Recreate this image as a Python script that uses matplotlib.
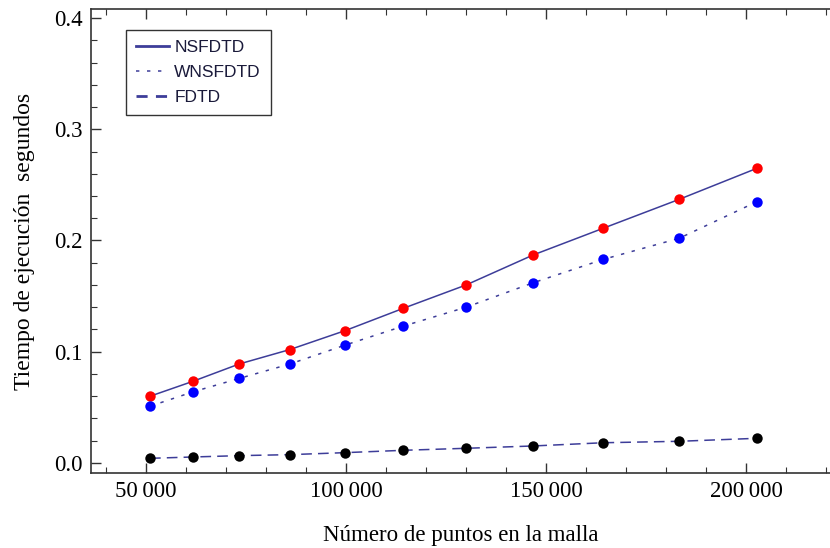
import matplotlib.pyplot as plt
from matplotlib.lines import Line2D
from matplotlib.ticker import MultipleLocator, FuncFormatter

# puntos de la malla
puntos = [51000, 61800, 73300, 86000, 99800, 114300, 130000, 146800, 164300, 183300, 202800]
# tiempos de ejecucion (s)
t_nsfdtd = [0.060, 0.0735, 0.089, 0.102, 0.119, 0.139, 0.160, 0.187, 0.211, 0.237, 0.265]
t_wnsfdtd = [0.051, 0.064, 0.076, 0.089, 0.106, 0.123, 0.140, 0.162, 0.183, 0.202, 0.235]
t_fdtd = [0.0042, 0.0054, 0.0066, 0.0075, 0.0093, 0.0114, 0.0132, 0.0153, 0.0182, 0.0195, 0.0222]
nombres = ["NSFDTD", "WNSFDTD", "FDTD"]

linea = "#3d3d99"
serif = ["Liberation Serif", "DejaVu Serif"]

fig = plt.figure(figsize=(8.3, 5.48), dpi=100)
ax = fig.add_axes([91 / 830, 75 / 548, 1 - 91 / 830, 464 / 548])

ax.plot(puntos, t_nsfdtd, color=linea, lw=1.1, ls="-")
ax.plot(puntos, t_wnsfdtd, color=linea, lw=1.1, ls=(0, (2.2, 5)))
ax.plot(puntos, t_fdtd, color=linea, lw=1.1, ls=(0, (7, 4)))

ax.plot(puntos, t_nsfdtd, "o", color="#ff0000", ms=7.5, mec="none")
ax.plot(puntos, t_wnsfdtd, "o", color="#0000ff", ms=7.5, mec="none")
ax.plot(puntos, t_fdtd, "o", color="black", ms=7.5, mec="none")

ax.set_xlim(36250, 221000)
ax.set_ylim(-0.009, 0.4081)

ax.xaxis.set_major_locator(MultipleLocator(50000))
ax.xaxis.set_minor_locator(MultipleLocator(10000))
ax.yaxis.set_major_locator(MultipleLocator(0.1))
ax.yaxis.set_minor_locator(MultipleLocator(0.02))
ax.xaxis.set_major_formatter(FuncFormatter(lambda v, p: f"{int(v):,}".replace(",", "\u2009")))
ax.yaxis.set_major_formatter(FuncFormatter(lambda v, p: f"{v:.1f}"))

ax.spines["right"].set_visible(False)
for s in ["left", "top", "bottom"]:
    ax.spines[s].set_color("#333333")
    ax.spines[s].set_linewidth(1.2)

ax.tick_params(which="both", direction="in", top=True, right=False, color="#333333")
ax.tick_params(which="major", length=7, width=1)
ax.tick_params(which="minor", length=4, width=0.8)
ax.tick_params(labelsize=16.5, pad=6)
for lab in ax.get_xticklabels() + ax.get_yticklabels():
    lab.set_family(serif)

ax.set_xlabel("Número de puntos en la malla", family=serif, fontsize=16.5, labelpad=16)
ax.set_ylabel("Tiempo de ejecución  segundos", family=serif, fontsize=17, labelpad=14)

handles = [
    Line2D([], [], color=linea, lw=2, ls="-"),
    Line2D([], [], color=linea, lw=1.1, ls=(0, (2.2, 5))),
    Line2D([], [], color=linea, lw=2, ls=(0, (4, 3))),
]
leg = ax.legend(handles, nombres, loc="upper left", bbox_to_anchor=(0.047, 0.955),
                borderaxespad=0, fancybox=False, frameon=True, edgecolor="black",
                prop={"family": "Liberation Sans", "size": 12.5}, handlelength=1.9,
                handletextpad=0.3, labelspacing=0.55, borderpad=0.6)
leg.get_frame().set_linewidth(1.0)
for t in leg.get_texts():
    t.set_color("#1a1a3a")

fig.savefig("out.png", dpi=100)
